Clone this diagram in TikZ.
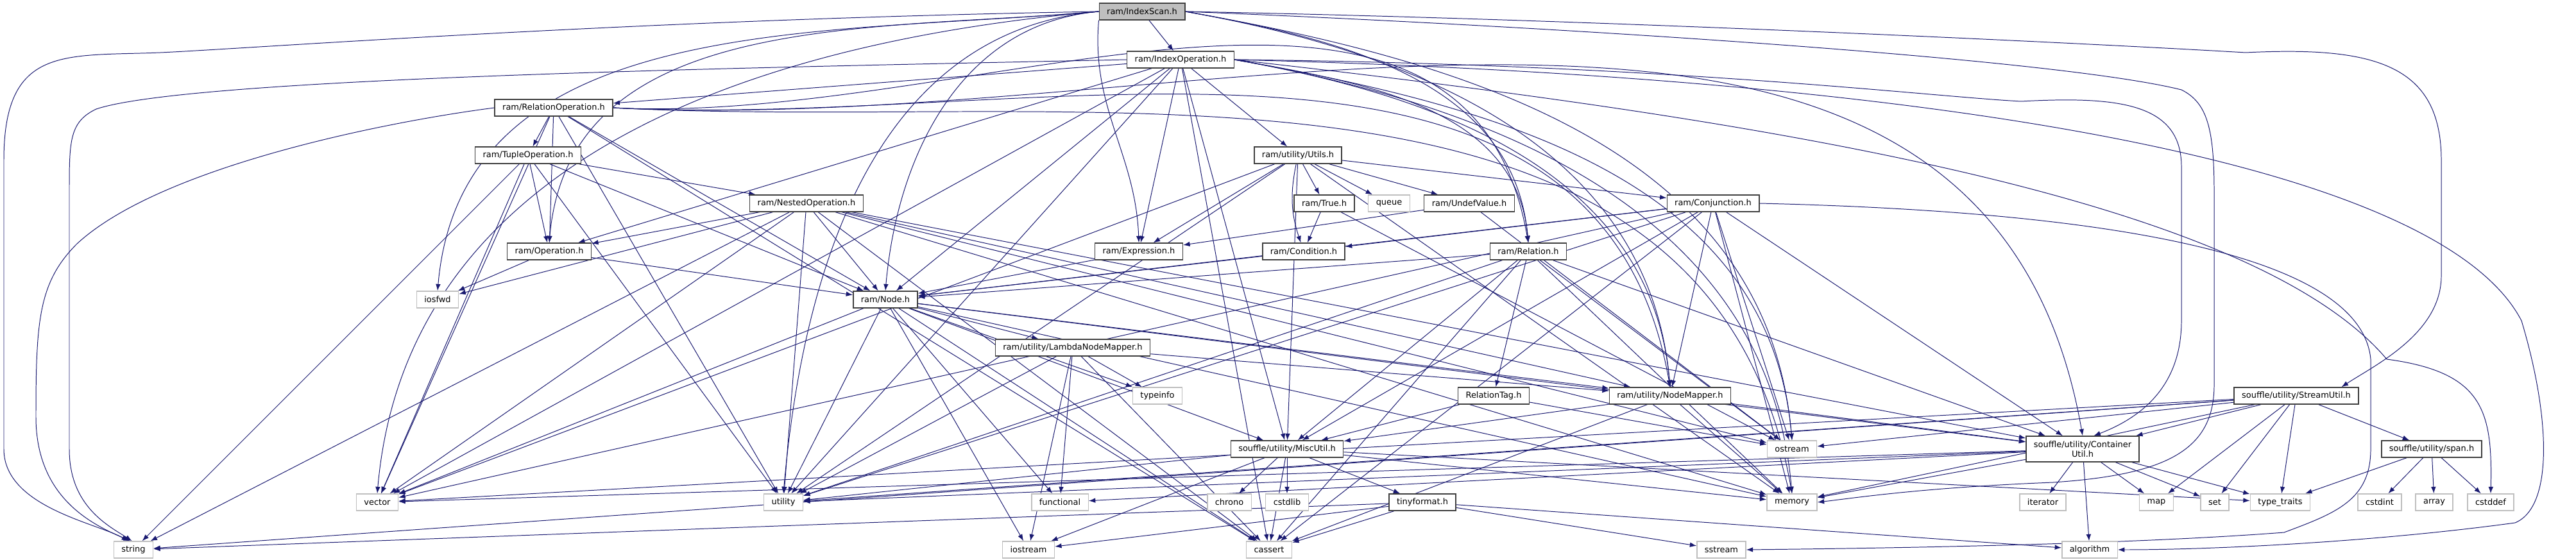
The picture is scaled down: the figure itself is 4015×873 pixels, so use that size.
\documentclass[tikz,border=0pt]{standalone}
\usepackage{fontspec}
\setmainfont{DejaVu Sans}
\usepackage{xcolor}
\usepackage{tikz}
\usetikzlibrary{arrows.meta}
\definecolor{ink}{HTML}{000000}
\definecolor{incl}{HTML}{191970}
\definecolor{sGray}{HTML}{BFBFBF}
\pgfdeclarelayer{wires}
\pgfsetlayers{wires,main}
\tikzset{
  hdr/.style={rectangle, draw=ink!75, fill=white, line width=0.4pt, inner xsep=0.12cm, inner ysep=0.03cm, minimum height=0.26cm, font=\fontsize{3.68}{4.4}\selectfont, text=ink},
  sys/.style={hdr, draw=sGray},
  rootbox/.style={hdr, fill=sGray},
  dep/.style={draw=incl, line width=0.28pt, -{Latex[length=1.04mm,width=0.76mm]}},
  sweepL/.style={out=185, in=85},
  sweepR/.style={out=-10, in=95},
}

\begin{document}
\begin{tikzpicture}[x=0.01cm, y=-0.01cm]
\useasboundingbox (0,0) rectangle (4015,873);
% project headers
\node[rootbox] (scan) at (1780,18) {ram/IndexScan.h};
\node[hdr] (idxop) at (1840,93) {ram/IndexOperation.h};
\node[hdr] (relop) at (863,168) {ram/RelationOperation.h};
\node[hdr] (tupop) at (823,242) {ram/TupleOperation.h};
\node[hdr] (utils) at (2023,242) {ram/utility/Utils.h};
\node[hdr] (nestop) at (1257,317) {ram/NestedOperation.h};
\node[hdr] (truen) at (2064,317) {ram/True.h};
\node[hdr] (undef) at (2290,317) {ram/UndefValue.h};
\node[hdr] (conj) at (2670,317) {ram/Conjunction.h};
\node[hdr] (oper) at (856,392) {ram/Operation.h};
\node[hdr] (expr) at (1775,392) {ram/Expression.h};
\node[hdr] (cond) at (2032,392) {ram/Condition.h};
\node[hdr] (rel) at (2382,392) {ram/Relation.h};
\node[hdr] (ramnode) at (1380,467) {ram/Node.h};
\node[hdr] (lambda) at (1672,542) {ram/utility/LambdaNodeMapper.h};
\node[hdr] (reltag) at (2328,617) {RelationTag.h};
\node[hdr] (nmap) at (2603,617) {ram/utility/NodeMapper.h};
\node[hdr] (sutil) at (3579,617) {souffle/utility/StreamUtil.h};
\node[hdr] (misc) at (2006,700) {souffle/utility/MiscUtil.h};
\node[hdr, align=center, minimum height=0.4cm] (cutil) at (3246,700) {souffle/utility/Container\\Util.h};
\node[hdr] (span) at (3790,700) {souffle/utility/span.h};
\node[hdr] (tinyfmt) at (2217,783) {tinyformat.h};
% system headers
\node[sys] (queue) at (2165,317) {queue};
\node[sys] (iosfwd) at (682,467) {iosfwd};
\node[sys] (typeinfo) at (1804,617) {typeinfo};
\node[sys] (ostream) at (2793,700) {ostream};
\node[sys] (vector) at (588,783) {vector};
\node[sys] (utility) at (1221,783) {utility};
\node[sys] (functional) at (1652,783) {functional};
\node[sys] (chrono) at (1916,783) {chrono};
\node[sys] (cstdlib) at (2006,783) {cstdlib};
\node[sys] (memory) at (2793,783) {memory};
\node[sys] (iterator) at (3184,783) {iterator};
\node[sys] (map) at (3361,783) {map};
\node[sys] (set) at (3452,783) {set};
\node[sys] (typetr) at (3554,783) {type\_traits};
\node[sys] (cstdint) at (3709,783) {cstdint};
\node[sys] (array) at (3794,783) {array};
\node[sys] (cstddef) at (3882,783) {cstddef};
\node[sys] (string) at (208,857) {string};
\node[sys] (iostream) at (1603,857) {iostream};
\node[sys] (cassert) at (1978,857) {cassert};
\node[sys] (sstream) at (2683,857) {sstream};
\node[sys] (algorithm) at (3257,857) {algorithm};

\begin{pgfonlayer}{wires}
% ram/IndexScan.h
\draw[dep] (scan) -- (idxop);
\draw[dep] (scan.south west) to[out=-95, in=92] (expr.north);
\foreach \t in {ramnode,oper,iosfwd,utility,vector}
  \draw[dep] (scan.west) to[sweepL] (\t.north);
\foreach \t in {rel,nmap,ostream}
  \draw[dep] (scan.east) to[sweepR] (\t.north);
\draw[dep] (scan.west) .. controls (1000,30) and (400,75) .. (250,82) .. controls (100,88) and (6,70) .. (6,250) -- (6,700) .. controls (6,790) and (150,815) .. (string.120);
\draw[dep] (scan.east) .. controls (2500,30) and (3300,70) .. (3500,82) .. controls (3700,72) and (3805,100) .. (3805,250) -- (3805,430) .. controls (3805,520) and (3700,570) .. (sutil.11);
\draw[dep] (scan.east) .. controls (2400,40) and (3200,90) .. (3400,140) .. controls (3440,160) and (3451,200) .. (3451,300) -- (3451,600) .. controls (3451,700) and (3380,740) .. (3200,752) .. controls (3000,760) and (2900,775) .. (memory.east);
% ram/IndexOperation.h
\foreach \t in {expr,ramnode,oper,relop,utils,misc,cassert,utility,vector}
  \draw[dep] (idxop) -- (\t);
\foreach \t in {rel,nmap,ostream,memory}
  \draw[dep] (idxop.east) to[sweepR] (\t.north);
\draw[dep] (idxop.west) .. controls (1200,105) and (300,120) .. (150,170) .. controls (108,190) and (108,220) .. (108,300) -- (108,700) .. controls (108,790) and (170,820) .. (string.100);
\draw[dep] (idxop.east) .. controls (2600,100) and (3000,150) .. (3150,158) .. controls (3300,150) and (3400,160) .. (3400,260) -- (3400,500) .. controls (3400,600) and (3340,650) .. (cutil.50);
\draw[dep] (idxop.east) .. controls (2700,180) and (3500,300) .. (3720,560) .. controls (3870,580) and (3885,640) .. (cstddef.north);
\draw[dep] (idxop.east) .. controls (3000,120) and (3800,250) .. (3930,500) .. controls (3975,650) and (3980,790) .. (3920,815) .. controls (3700,845) and (3450,857) .. (algorithm.east);
% ram/RelationOperation.h
\foreach \t in {ramnode,oper,tupop,cassert,utility,vector}
  \draw[dep] (relop) -- (\t);
\foreach \t in {rel,nmap,cutil,memory}
  \draw[dep] (relop.east) to[out=-3, in=100] (\t.north);
\draw[dep] (relop.west) .. controls (600,190) and (250,260) .. (120,380) .. controls (60,440) and (56,500) .. (56,650) .. controls (56,780) and (150,820) .. (string.110);
% ram/TupleOperation.h and ram/NestedOperation.h
\foreach \t in {nestop,ramnode,oper,string,utility,vector}
  \draw[dep] (tupop) -- (\t);
\foreach \t in {ramnode,oper,nmap,cutil,cassert,iosfwd,memory,ostream,string,utility,vector}
  \draw[dep] (nestop) -- (\t);
\foreach \t in {ramnode,iosfwd}
  \draw[dep] (oper) -- (\t);
% ram/utility/Utils.h
\foreach \t in {conj,expr,truen,undef,queue,misc,memory,utility,vector}
  \draw[dep] (utils) -- (\t);
\draw[dep] (utils) to[bend right=15] (cond);
\foreach \t in {cond,ostream}
  \draw[dep] (truen) -- (\t);
\foreach \t in {expr,ostream}
  \draw[dep] (undef) -- (\t);
\foreach \t in {cond,ramnode,nmap,cutil,misc,cassert,memory,ostream,utility,vector}
  \draw[dep] (conj) -- (\t);
\draw[dep] (conj.east) .. controls (3300,330) and (3680,400) .. (3695,560) -- (3695,700) .. controls (3695,780) and (3640,800) .. (3560,830) .. controls (3300,850) and (2900,855) .. (sstream.east);
\draw[dep] (expr) -- (ramnode);
\draw[dep] (cond) -- (ramnode);
% ram/Relation.h
\foreach \t in {reltag,ramnode,cutil,misc,cassert,memory,ostream,utility}
  \draw[dep] (rel) -- (\t);
\foreach \t in {misc,ostream}
  \draw[dep] (reltag) -- (\t);
% ram/Node.h
\foreach \t in {lambda,nmap,cutil,misc,cassert,functional,iostream,memory,typeinfo,utility,vector}
  \draw[dep] (ramnode) -- (\t);
\foreach \t in {nmap,functional,iostream,cassert,typeinfo,utility}
  \draw[dep] (lambda) -- (\t);
\foreach \t in {misc,cutil,cassert,memory}
  \draw[dep] (nmap) -- (\t);
% souffle utilities
\foreach \t in {tinyfmt,cassert,chrono,cstdlib,iostream,memory,utility,typetr}
  \draw[dep] (misc) -- (\t);
\foreach \t in {cassert,iostream,sstream,algorithm,string}
  \draw[dep] (tinyfmt) -- (\t);
\foreach \t in {iterator,algorithm,map,set,typetr,memory,utility,vector,functional}
  \draw[dep] (cutil) -- (\t);
\foreach \t in {cutil,span,ostream,memory,map,set,typetr,string,utility,vector}
  \draw[dep] (sutil) -- (\t);
\foreach \t in {typetr,cstdint,array,cstddef}
  \draw[dep] (span) -- (\t);
\end{pgfonlayer}
\end{tikzpicture}
\end{document}
